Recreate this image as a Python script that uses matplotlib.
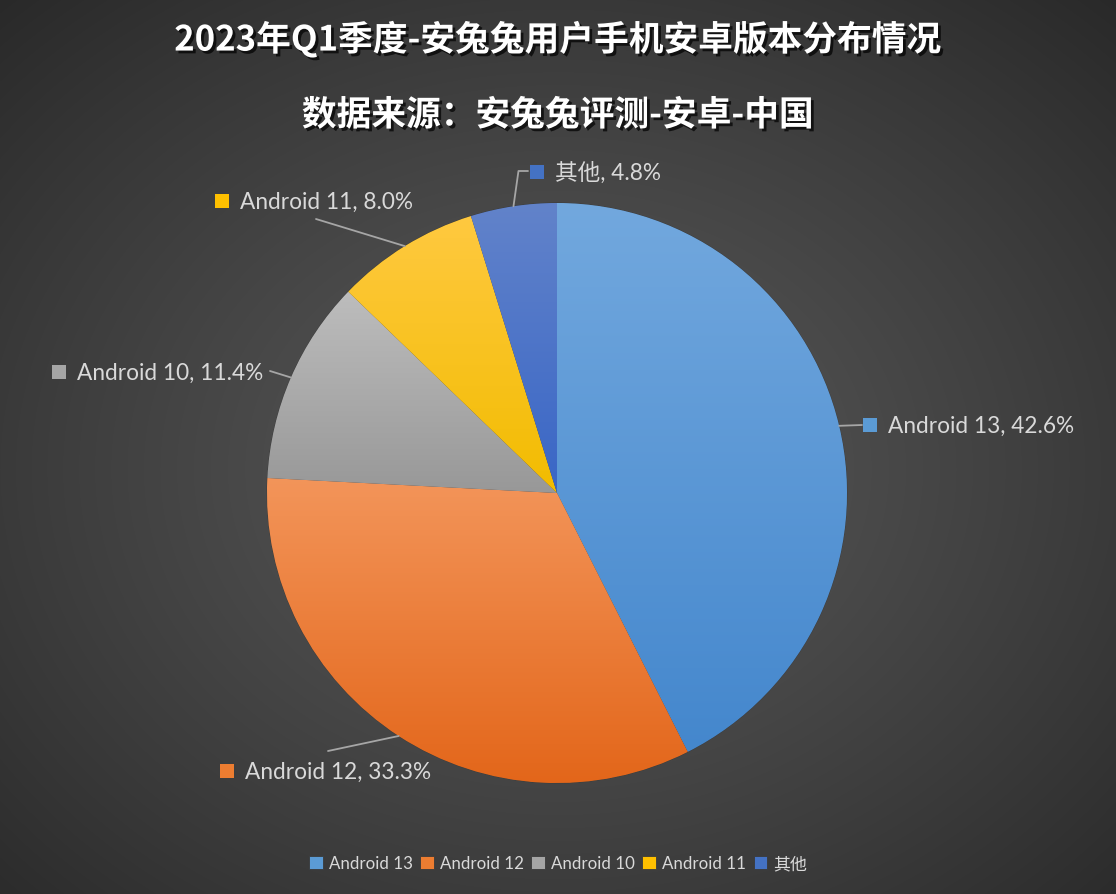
import numpy as np
import matplotlib
matplotlib.use('Agg')
import matplotlib.pyplot as plt
import matplotlib.patheffects as pe
from matplotlib.colors import LinearSegmentedColormap

plt.rcParams['font.family'] = ['Lato', 'Noto Sans CJK SC', 'DejaVu Sans']

# 数据
labels = ['Android 13', 'Android 12', 'Android 10', 'Android 11', '其他']
shares = [42.6, 33.3, 11.4, 8.0, 4.8]
title_1 = '2023年Q1季度-安兔兔用户手机安卓版本分布情况'
title_2 = '数据来源：安兔兔评测-安卓-中国'

# 颜色（上 -> 下 渐变）
top_colors = ['#72a8de', '#f3955a', '#bdbdbd', '#ffc940', '#6283ca']
bottom_colors = ['#4487cd', '#e3661a', '#989898', '#f2bc00', '#3966c6']
mid_colors = ['#5b9bd5', '#ed7d31', '#a5a5a5', '#ffc000', '#4472c4']

W, H = 1116, 895
fig = plt.figure(figsize=(W / 100, H / 100), dpi=100)
ax = fig.add_axes([0, 0, 1, 1])

# 背景径向渐变
yy, xx = np.mgrid[0:H, 0:W]
r = np.sqrt(((xx - 558) / (W / 2)) ** 2 + ((yy - 470) / (H / 2)) ** 2)
c = np.clip(88 - 30 * r ** 1.2, 40, 90) / 255.0
bg = np.dstack([c, c, c])
ax.imshow(bg, extent=(0, W, 0, H), origin='upper', zorder=0, aspect='auto')

cx, cy, R = 557, H - 494, 290

wedges, _ = ax.pie(shares, colors=mid_colors, startangle=90, counterclock=False,
                   center=(cx, cy), radius=R, frame=True,
                   wedgeprops=dict(linewidth=0.6, edgecolor='#3a3a3a'))
ax.set_xlim(0, W)
ax.set_ylim(0, H)
ax.set_aspect('auto')
ax.axis('off')

# 扇区渐变填充
grad = np.linspace(0, 1, 256).reshape(-1, 1)
renderer = fig.canvas.get_renderer()
for w, t, b in zip(wedges, top_colors, bottom_colors):
    w.set_zorder(2)
    bb = w.get_window_extent(renderer)
    inv = ax.transData.inverted()
    (x0, y0), (x1, y1) = inv.transform([[bb.x0, bb.y0], [bb.x1, bb.y1]])
    cmap = LinearSegmentedColormap.from_list('g', [t, b])
    im = ax.imshow(grad, cmap=cmap, extent=(x0, x1, y0, y1), origin='upper',
                   aspect='auto', zorder=3)
    im.set_clip_path(w)

# 数据标签（位置为版式参数，像素，左上为原点）
label_pos = [(888, 426), (245, 772), (77, 373), (240, 202), (555, 173)]
leader_end = [(862, 426), (328, 752), (270, 372), (316, 220), (528, 172)]
text_color = '#d9d9d9'
for w, lab, v, (tx, ty), (lx, ly), col in zip(wedges, labels, shares, label_pos,
                                              leader_end, mid_colors):
    ang = np.deg2rad((w.theta1 + w.theta2) / 2)
    ax_, ay_ = cx + R * np.cos(ang), cy + R * np.sin(ang)
    if lab == '其他':
        xs = [ax_, ax_ + 5, lx]
        ys = [ay_, H - ly, H - ly]
    else:
        xs = [ax_, lx]
        ys = [ay_, H - ly]
    ax.plot(xs, ys, color='#a6a6a6', lw=1.3, zorder=4, solid_capstyle='round')
    ax.scatter([tx - 18], [H - ty], marker='s', s=110, color=col,
               edgecolors='none', zorder=5)
    ax.text(tx, H - ty, f'{lab}, {v:.1f}%', color=text_color, fontsize=16.3,
            ha='left', va='center', zorder=5)

# 标题
shadow = [pe.withSimplePatchShadow(offset=(2, -2), shadow_rgbFace='black', alpha=0.7)]
fig.text(0.5, 1 - 40 / H, title_1, ha='center', va='center', color='white',
         fontsize=25, fontweight='bold', family=['Noto Sans CJK SC'],
         path_effects=shadow)
fig.text(0.5, 1 - 116 / H, title_2, ha='center', va='center', color='white',
         fontsize=25, fontweight='bold', family=['Noto Sans CJK SC'],
         path_effects=shadow)

# 图例
leg = ax.legend(wedges, labels, loc='center', bbox_to_anchor=(0.5, 1 - 864 / H),
                ncol=5, frameon=False, handlelength=0.8, handleheight=0.8,
                handletextpad=0.35, columnspacing=0.45, fontsize=12.2,
                labelcolor=text_color)

fig.savefig('out.png', dpi=100, facecolor='#3a3a3a')
